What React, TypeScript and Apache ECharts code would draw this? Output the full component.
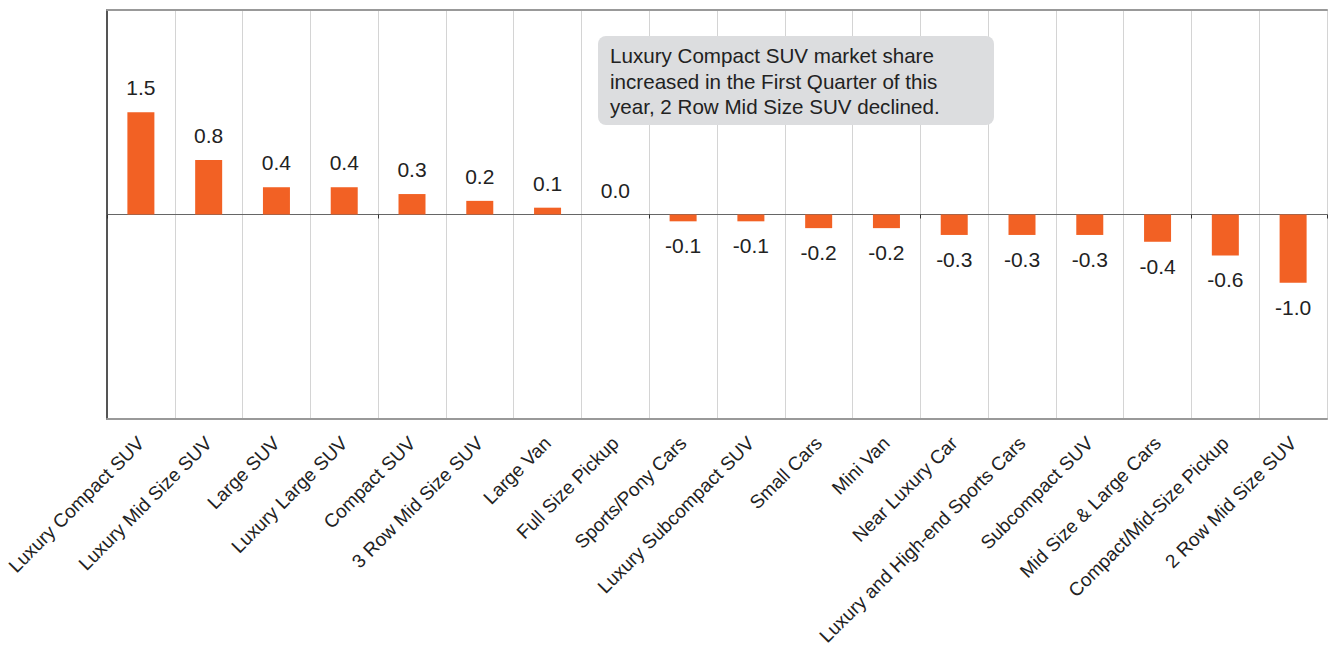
import React, { useEffect, useRef } from "react";
import * as echarts from "echarts";

const categories = [
  "Luxury Compact SUV",
  "Luxury Mid Size SUV",
  "Large SUV",
  "Luxury Large SUV",
  "Compact SUV",
  "3 Row Mid Size SUV",
  "Large Van",
  "Full Size Pickup",
  "Sports/Pony Cars",
  "Luxury Subcompact SUV",
  "Small Cars",
  "Mini Van",
  "Near Luxury Car",
  "Luxury and High-end Sports Cars",
  "Subcompact SUV",
  "Mid Size & Large Cars",
  "Compact/Mid-Size Pickup",
  "2 Row Mid Size SUV",
];

const shareChange = [1.5, 0.8, 0.4, 0.4, 0.3, 0.2, 0.1, 0.0, -0.1, -0.1, -0.2, -0.2, -0.3, -0.3, -0.3, -0.4, -0.6, -1.0];

const annotationText =
  "Luxury Compact SUV market share\nincreased in the First Quarter of this\nyear, 2 Row Mid Size SUV declined.";

const FONT = "'Liberation Sans', Arial, sans-serif";

export default function App() {
  const ref = useRef<HTMLDivElement>(null);
  useEffect(() => {
    if (!ref.current) return;
    const chart = echarts.init(ref.current, null, { renderer: "svg" });
    const data = shareChange.map((v) => ({
      value: v,
      label: {
        position: v < 0 ? "bottom" : "top",
      },
    }));
    chart.setOption({
      animation: false,
      textStyle: { fontFamily: FONT },
      grid: { left: 107, right: 1, top: 10, bottom: 233, containLabel: false },
      xAxis: [
        {
          type: "category",
          data: categories,
          position: "bottom",
          axisLine: { onZero: false, lineStyle: { color: "#999", width: 2 } },
          axisTick: { show: false },
          splitLine: { show: true, lineStyle: { color: "#d4d4d4", width: 1 } },
          axisLabel: {
            rotate: 45,
            interval: 0,
            margin: 21,
            fontSize: 19,
            color: "#222",
            fontFamily: FONT,
          },
        },
        {
          type: "category",
          data: categories,
          position: "bottom",
          axisLine: { onZero: true, lineStyle: { color: "#666", width: 1 } },
          axisTick: { show: true, length: 4, lineStyle: { color: "#333" } },
          axisLabel: { show: false },
          splitLine: { show: false },
        },
        {
          type: "category",
          data: categories,
          position: "top",
          axisLine: { onZero: false, lineStyle: { color: "#999", width: 2 } },
          axisTick: { show: false },
          axisLabel: { show: false },
          splitLine: { show: false },
        },
      ],
      yAxis: {
        type: "value",
        min: -3,
        max: 3,
        axisLine: { show: true, lineStyle: { color: "#555", width: 2 } },
        axisTick: { show: false },
        axisLabel: { show: false },
        splitLine: { show: false },
      },
      series: [
        {
          type: "bar",
          data,
          xAxisIndex: 0,
          barWidth: 27,
          itemStyle: { color: "#F26124" },
          label: {
            show: true,
            distance: 14,
            fontSize: 21,
            color: "#222",
            fontFamily: FONT,
            formatter: (p: any) => Number(p.value).toFixed(1),
          },
        },
      ],
      graphic: [
        {
          type: "group",
          left: 598,
          top: 36,
          z: 100,
          children: [
            {
              type: "rect",
              z: 100,
              shape: { x: 0, y: 0, width: 396, height: 89, r: 8 },
              style: { fill: "#DCDDDF" },
            },
            {
              type: "text",
              z: 101,
              x: 12,
              y: 7,
              style: {
                text: annotationText,
                fontSize: 20.6,
                lineHeight: 25.5,
                fill: "#222",
                fontFamily: FONT,
              },
            },
          ],
        },
      ],
    });
    return () => chart.dispose();
  }, []);
  return (
    <div
      ref={ref}
      style={{ position: "fixed", left: 0, top: 0, width: 1328, height: 652, background: "#fff" }}
    />
  );
}
